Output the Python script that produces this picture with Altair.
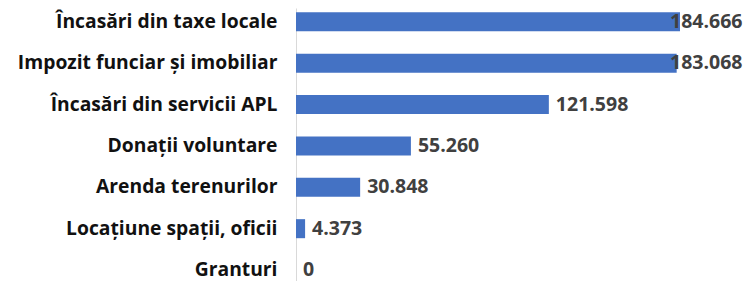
import altair as alt
import pandas as pd

categories = [
    "Încasări din taxe locale",
    "Impozit funciar și imobiliar",
    "Încasări din servicii APL",
    "Donații voluntare",
    "Arenda terenurilor",
    "Locațiune spații, oficii",
    "Granturi",
]
values = [184666, 183068, 121598, 55260, 30848, 4373, 0]

df = pd.DataFrame({"cat": categories, "value": values})

FONT = "Open Sans"
XMAX = 212561

y = alt.Y(
    "cat:N",
    sort=categories,
    title=None,
    scale=alt.Scale(paddingInner=0.54, paddingOuter=0.07, align=0.75, round=False),
    axis=alt.Axis(
        ticks=False,
        labelPadding=19,
        labelFont=FONT,
        labelFontSize=19.3,
        labelFontWeight="bold",
        labelColor="#111111",
        labelLimit=300,
        domainColor="#d9d9d9",
        domainWidth=1,
        minExtent=288,
        maxExtent=288,
    ),
)
x = alt.X("value:Q", axis=None, scale=alt.Scale(domain=[0, XMAX], nice=False))

bars = alt.Chart(df).mark_bar(color="#4472C4").encode(x=x, y=y)

labels = (
    alt.Chart(df)
    .transform_calculate(
        lx="min(datum.value, 176500)",
        txt="replace(format(datum.value, ','), ',', '.')",
    )
    .mark_text(
        align="left",
        baseline="middle",
        dx=7,
        font=FONT,
        fontSize=19.5,
        fontWeight="bold",
        color="#404040",
    )
    .encode(x=alt.X("lx:Q", scale=alt.Scale(domain=[0, XMAX], nice=False), axis=None), y=y, text="txt:N")
)

chart = (
    alt.layer(bars, labels)
    .properties(width=442, height=273, padding=0)
    .configure_view(stroke=None)
)

chart.save("out.html", embed_options={"renderer": "svg", "actions": False})
